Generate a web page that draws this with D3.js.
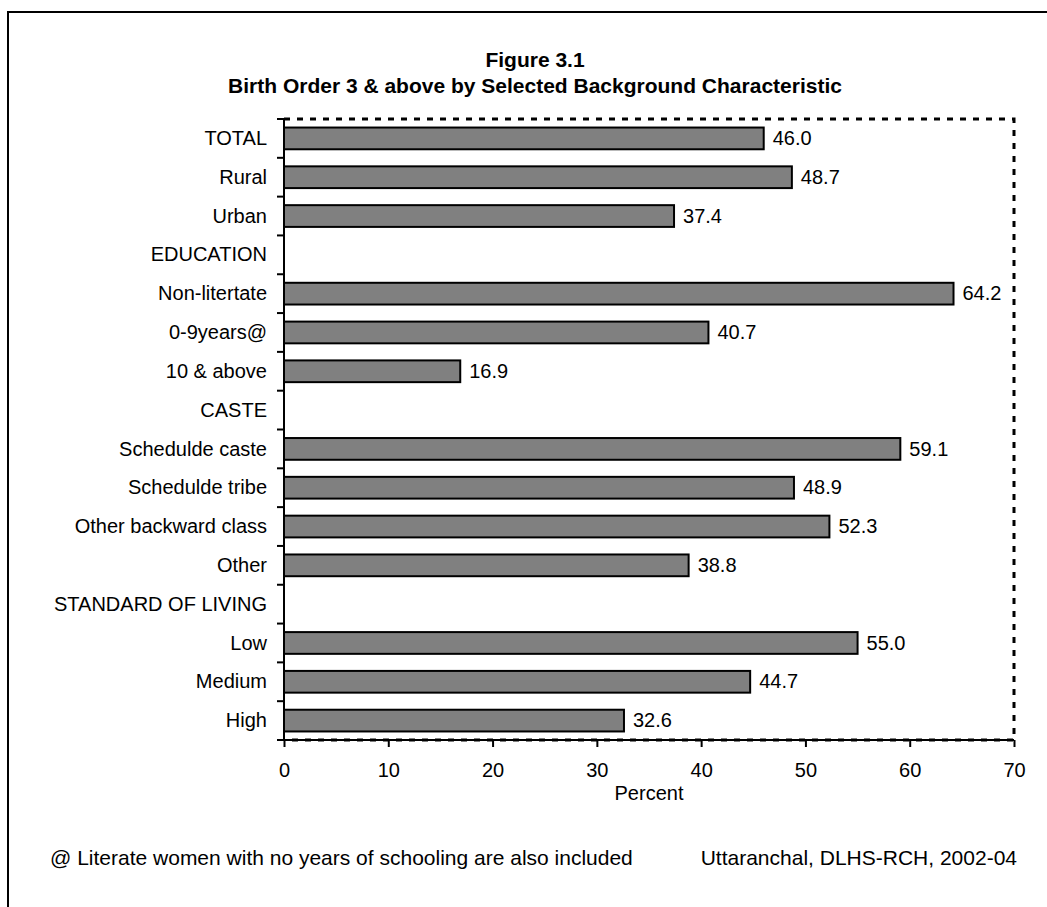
<!DOCTYPE html>
<html><head><meta charset="utf-8">
<script src="https://cdn.jsdelivr.net/npm/d3@7"></script>
<style>body{margin:0;background:#fff;} text{font-family:"Liberation Sans",Arial,sans-serif;}</style>
</head><body>
<svg id="c" width="1047" height="907"></svg>
<script>
const categories = ["TOTAL","Rural","Urban","EDUCATION","Non-litertate","0-9years@","10 & above","CASTE","Schedulde caste","Schedulde tribe","Other backward class","Other","STANDARD OF LIVING","Low","Medium","High"];
const values = [46.0,48.7,37.4,null,64.2,40.7,16.9,null,59.1,48.9,52.3,38.8,null,55.0,44.7,32.6];
const xTicks = [0,10,20,30,40,50,60,70];
const titleLines = ["Figure 3.1","Birth Order 3 & above by Selected Background Characteristic"];
const xLabel = "Percent";
const footLeft = "@ Literate women with no years of schooling are also included";
const footRight = "Uttaranchal, DLHS-RCH, 2002-04";

const FS = 20;
const svg = d3.select("#c");
const L = 284, R = 1014, T = 119, B = 740;
const x = d3.scaleLinear().domain([0,70]).range([L,R]);
const y = d3.scaleBand().domain(categories).range([T,B]).paddingInner(0.44).paddingOuter(0.22);
const yb = d3.scaleBand().domain(categories).range([T,B]);

// outer frame
svg.append("path").attr("d","M8,907 L8,12 L1047,12").attr("fill","none").attr("stroke","#000").attr("stroke-width",2);

// title
svg.selectAll("text.title").data(titleLines).enter().append("text")
  .attr("x",535).attr("y",(d,i)=>67+i*26).attr("text-anchor","middle")
  .attr("font-size",21).attr("font-weight","bold").text(d=>d);

// dashed plot border
svg.append("path").attr("d",`M${L},${T} L${R},${T} L${R},${B} L${L},${B}`).attr("fill","none")
  .attr("stroke","#000").attr("stroke-width",3).attr("stroke-dasharray","6,7");

// bars
const data = categories.map((c,i)=>({c,v:values[i]})).filter(d=>d.v!==null);
svg.selectAll("rect.bar").data(data).enter().append("rect")
  .attr("x",x(0)).attr("y",d=>y(d.c)).attr("width",d=>x(d.v)-x(0)).attr("height",y.bandwidth())
  .attr("fill","#808080").attr("stroke","#000").attr("stroke-width",2);
svg.selectAll("text.val").data(data).enter().append("text")
  .attr("x",d=>x(d.v)+9).attr("y",d=>y(d.c)+y.bandwidth()/2).attr("dy","0.33em")
  .attr("font-size",FS).text(d=>d.v.toFixed(1));

// y axis
const gy = svg.append("g");
gy.append("line").attr("x1",L).attr("x2",L).attr("y1",T).attr("y2",B).attr("stroke","#000").attr("stroke-width",2);
const bounds = categories.map(c=>yb(c)).concat([B]);
gy.selectAll("line.t").data(bounds).enter().append("line")
  .attr("x1",L-7).attr("x2",L).attr("y1",d=>d).attr("y2",d=>d).attr("stroke","#000").attr("stroke-width",2);
gy.selectAll("text").data(categories).enter().append("text")
  .attr("x",267).attr("y",d=>yb(d)+yb.bandwidth()/2).attr("dy","0.33em").attr("text-anchor","end")
  .attr("font-size",FS).text(d=>d);

// x axis
const gx = svg.append("g").attr("transform",`translate(0,${B})`)
  .call(d3.axisBottom(x).tickValues(xTicks).tickSize(7).tickPadding(0).tickFormat(d3.format("d")));
gx.select(".domain").attr("stroke","#000").attr("stroke-width",2).attr("d",`M${L},0H${R}`);
gx.selectAll(".tick line").attr("stroke","#000").attr("stroke-width",2);
gx.selectAll(".tick text").attr("font-size",FS).attr("fill","#000").attr("dy",null).attr("y",37)
  .attr("font-family","Liberation Sans, Arial, sans-serif");

svg.append("text").attr("x",649).attr("y",800).attr("text-anchor","middle").attr("font-size",FS).text(xLabel);

svg.append("text").attr("x",50).attr("y",865).attr("font-size",21).text(footLeft);
svg.append("text").attr("x",1017).attr("y",865).attr("text-anchor","end").attr("font-size",21).text(footRight);
</script>
</body></html>
